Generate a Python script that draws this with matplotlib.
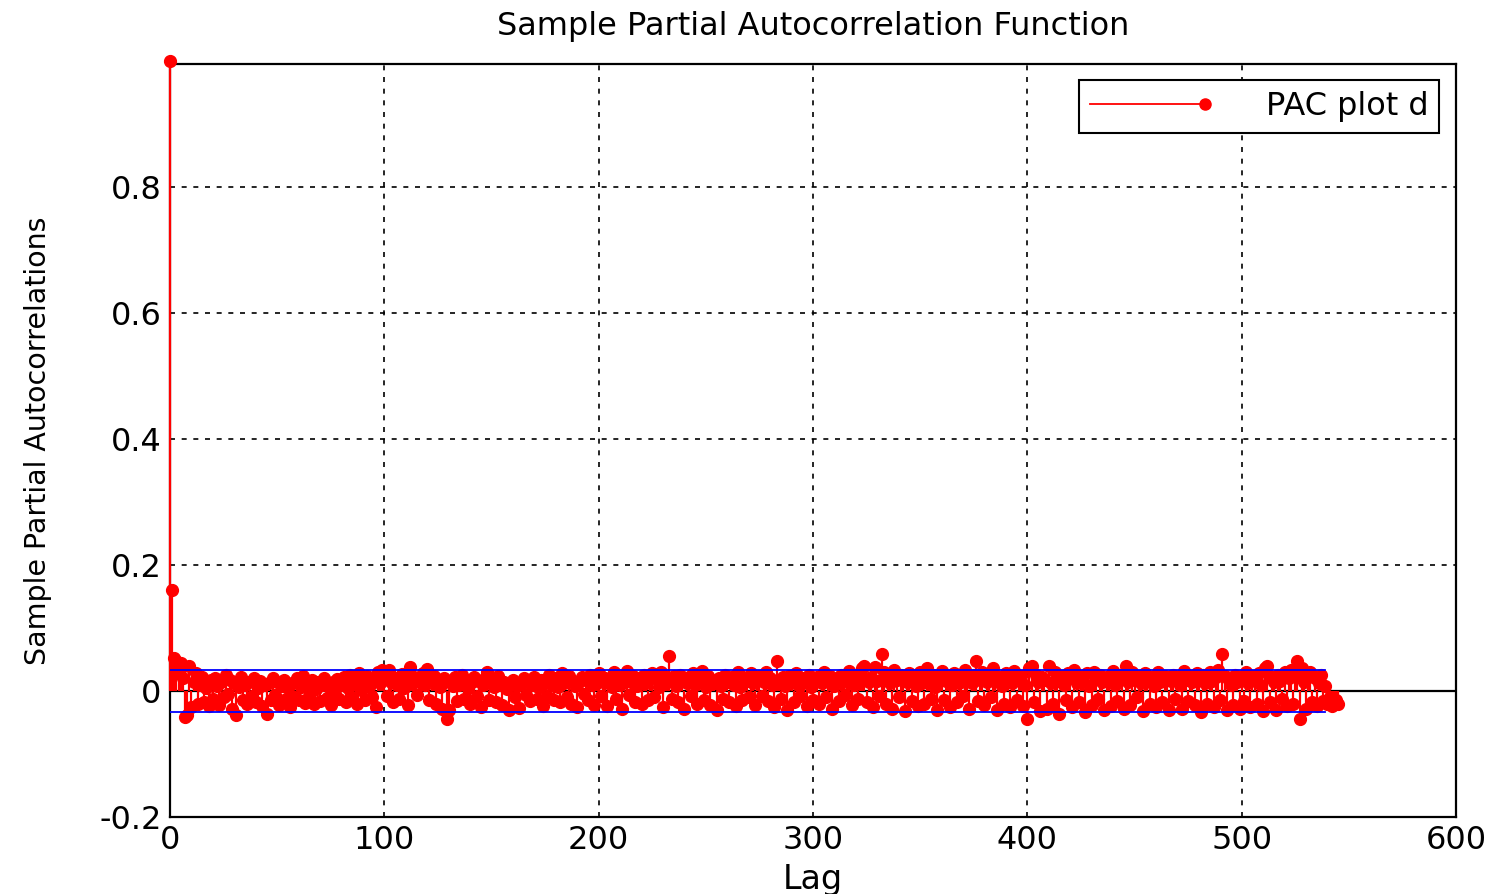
import numpy as np
import matplotlib
matplotlib.use("Agg")
import matplotlib.pyplot as plt
from matplotlib.lines import Line2D
from matplotlib.legend_handler import HandlerBase

# sample partial autocorrelations, in thousandths, lags 0..545
pacf_milli = [
    1000, 160, 52, 48, 30, 45, 20, -42, -38, 40, -25, 15, 28, -20, 10, 22, -18, 5, -24, 18,
    -12, 20, 8, -22, 15, -10, 25, -5, 18, -28, 12, -38, 6, 22, -15, 10, -20, 14, -8, 20,
    -18, 5, 16, -24, 9, -36, 12, -14, 20, -6, 15, -22, 8, 18, -12, 4, -26, 13, -9, 21,
    -15, 7, 24, -19, 11, -8, 17, -21, 3, 14, -16, 9, 20, -11, 6, -23, 15, -4, 19, -13,
    10, 22, -17, 5, 26, -9, 13, -20, 28, 2, 18, -14, 24, 7, -10, 16, -25, 30, 12, 33,
    25, -8, 34, 15, -18, 20, 9, -12, 27, 4, 16, -22, 38, 11, 22, -6, 19, 14, 28, 10,
    35, -15, 18, 24, -20, 12, 6, -28, 20, -45, -30, 15, 8, 22, -16, 10, 25, -12, 18, 4,
    -20, 14, 22, -8, 16, -25, 9, 20, 30, -14, 12, 6, -18, 24, 10, -22, 15, 3, -30, 11,
    18, -10, 8, -27, 14, 20, -6, 12, -16, 9, 22, -12, 5, 17, -24, 13, -8, 26, 10, -14,
    20, 6, -18, 28, 12, -10, 24, -20, 16, 8, -26, 14, 22, -4, 18, -15, 25, 10, -22, 12,
    28, -8, 16, 20, -24, 14, 6, 30, -12, 22, 10, -28, 18, 32, -6, 15, 24, -18, 8, 20,
    -20, 26, 12, -14, 22, 28, -10, 18, 6, 30, -25, 14, 20, 55, -12, 24, 8, -18, 26, 16,
    -28, 12, 22, -8, 28, 10, -20, 16, 32, -14, 6, 24, -22, 18, 12, -30, 20, 8, -12, 26,
    14, -18, 22, 10, -24, 30, 6, -14, 20, 16, -10, 28, 12, -22, 18, 24, -8, 14, 30, -16,
    20, 10, -26, 48, 15, -12, 22, 8, -30, 24, 16, -18, 28, 10, -8, 20, 14, -24, 26, 6,
    -14, 18, 22, -20, 12, 30, -10, 16, 24, -28, 8, 20, -16, 26, 14, -6, 22, 32, -22, 10,
    18, -12, 28, 36, 40, -18, 14, 22, -26, 38, 16, -8, 58, 30, -20, 24, 12, -28, 34, 18,
    -10, 26, 20, -32, 14, 28, -16, 22, 8, -24, 30, 12, -20, 36, 18, -12, 26, 6, -30, 20,
    32, -14, 16, 24, -26, 10, 28, -18, 22, 14, -8, 34, 20, -28, 12, 26, 47, -16, 18, 30,
    -22, 14, 24, -10, 36, 18, -30, 22, 8, -20, 28, 16, -26, 12, 32, -14, 20, 24, -24, 10,
    -44, 36, 40, -18, 26, 14, -32, 22, 18, -28, 40, 12, -20, 30, 16, -36, 24, 10, -14, 28,
    20, -26, 34, 12, -18, 24, 16, -34, 28, 8, -22, 30, 20, -12, 26, 14, -30, 22, 18, -24,
    32, 10, -16, 26, 20, -28, 40, 14, -22, 30, 18, -10, 24, 12, -32, 28, 16, -20, 22, 8,
    -26, 30, 14, -18, 24, 20, -30, 16, 26, -12, 22, 10, -28, 32, 18, -16, 24, 14, -22, 28,
    20, -34, 26, 12, -20, 30, 16, -26, 22, 34, -14, 58, 24, -30, 18, 10, -22, 26, 14, -28,
    20, -16, 30, 12, -26, 24, 18, -20, 28, 10, -32, 36, 40, -18, 22, 14, -30, 26, 16, -12,
    30, -24, 20, 34, -20, 26, 48, -45, 36, 14, -28, 24, 30, -18, 20, -24, 12, 26, -16, 8,
    -20, -10, -24, -18, -14, -20,
]
pacf = np.array(pacf_milli) / 1000.0
lags = np.arange(len(pacf))

# approximate 95% confidence bounds
bound = 0.0335
bound_lags = [0, 539]

x_ticks = [0, 100, 200, 300, 400, 500, 600]
y_ticks = [-0.2, 0, 0.2, 0.4, 0.6, 0.8]
y_tick_labels = ["-0.2", "0", "0.2", "0.4", "0.6", "0.8"]


class StemKey(HandlerBase):
    # line with a dot at its right end, like a stem legend entry
    def create_artists(self, legend, orig_handle, xdescent, ydescent,
                       width, height, fontsize, trans):
        y = height / 2 - ydescent
        line = Line2D([-xdescent, width - xdescent], [y, y], color="red",
                      lw=1.3, transform=trans)
        dot = Line2D([width - xdescent], [y], marker="o", color="red",
                     ms=8, transform=trans)
        return [line, dot]


fig = plt.figure(figsize=(14.97, 8.94), dpi=100)
ax = fig.add_axes([0.1136, 0.0861, 0.8590, 0.8423])

ax.axhline(0, color="black", lw=1.6, zorder=1)
ax.plot(bound_lags, [bound, bound], color="blue", lw=1.3, zorder=4)
ax.plot(bound_lags, [-bound, -bound], color="blue", lw=1.3, zorder=4)

ax.vlines(lags, 0, pacf, color="red", lw=1.6, zorder=3, clip_on=False)
pts, = ax.plot(lags, pacf, "o", color="red", ms=8.5, zorder=3, clip_on=False)

ax.set_xlim(0, 600)
ax.set_ylim(-0.2, 0.995)
ax.set_xticks(x_ticks)
ax.set_yticks(y_ticks)
ax.set_yticklabels(y_tick_labels)
ax.grid(True, color="black", linestyle=(0, (3, 4)), lw=1.2)
ax.set_axisbelow(True)
ax.tick_params(direction="in", length=0, labelsize=23, pad=6)
for s in ax.spines.values():
    s.set_linewidth(1.6)

ax.set_title("Sample Partial Autocorrelation Function", fontsize=23, pad=21)
ax.set_xlabel("Lag", fontsize=24, labelpad=5)
ax.set_ylabel("Sample Partial Autocorrelations", fontsize=20.5, labelpad=34)

leg = ax.legend([pts], ["PAC plot d"], handler_map={pts: StemKey()},
                loc="upper right", fontsize=23, handlelength=3.6,
                handletextpad=1.9, borderpad=0.35, fancybox=False,
                edgecolor="black", framealpha=1, bbox_to_anchor=(0.9995, 1.0))
leg.get_frame().set_linewidth(1.5)

fig.savefig("out.png", dpi=100)
